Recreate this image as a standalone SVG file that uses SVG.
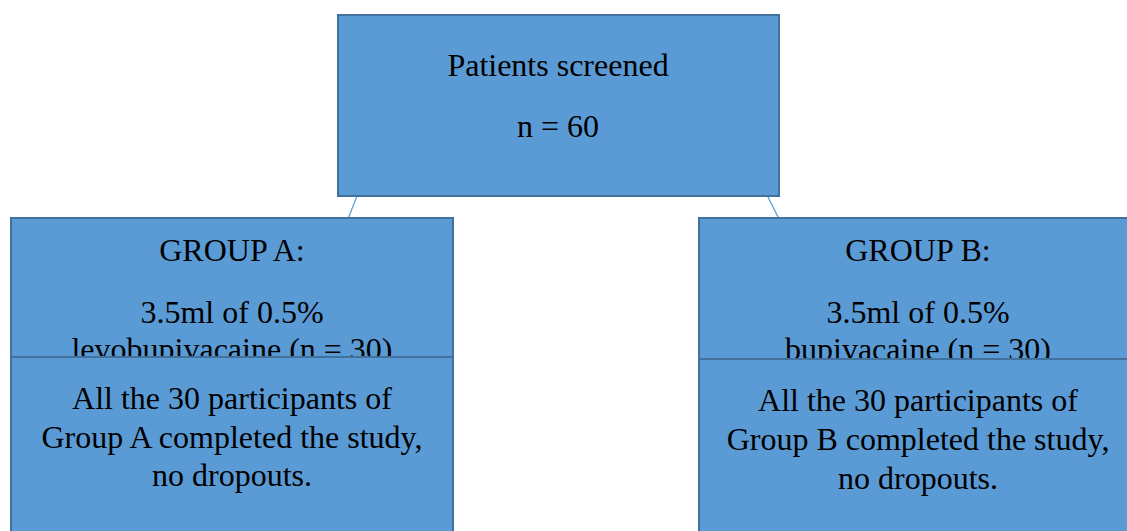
<svg xmlns="http://www.w3.org/2000/svg" width="1127" height="531" viewBox="0 0 1127 531">
<style>
.box{fill:#5b9bd5;stroke:#41719c;stroke-width:2}
.t{font-family:"Liberation Serif","Times New Roman",serif;font-size:32px;fill:#000;text-anchor:middle}
.c{stroke:#5b9bd5;stroke-width:1.2;fill:none}
</style>
<rect width="1127" height="531" fill="#fff"/>
<g id="connectors">
<line class="c" x1="357" y1="196" x2="348" y2="219"/>
<line class="c" x1="767" y1="195" x2="779" y2="219"/>
</g>
<g id="screened">
<rect class="box" x="338" y="15" width="441" height="181"/>
<text class="t" x="558" y="76">Patients screened</text>
<text class="t" x="558" y="137">n = 60</text>
</g>
<g id="groupA">
<rect class="box" x="11" y="218" width="442" height="180"/>
<text class="t" x="232" y="261">GROUP A:</text>
<text class="t" x="232" y="323">3.5ml of 0.5%</text>
<text class="t" x="232" y="360">levobupivacaine (n = 30)</text>
</g>
<g id="groupB">
<rect class="box" x="699" y="218" width="440" height="180"/>
<text class="t" x="918" y="261">GROUP B:</text>
<text class="t" x="918" y="323">3.5ml of 0.5%</text>
<text class="t" x="918" y="360">bupivacaine (n = 30)</text>
</g>
<g id="completedA">
<rect class="box" x="11" y="357" width="442" height="190"/>
<text class="t" x="232" y="409">All the 30 participants of</text>
<text class="t" x="232" y="448">Group A completed the study,</text>
<text class="t" x="232" y="486">no dropouts.</text>
</g>
<g id="completedB">
<rect class="box" x="699" y="359" width="440" height="190"/>
<text class="t" x="918" y="411">All the 30 participants of</text>
<text class="t" x="918" y="450">Group B completed the study,</text>
<text class="t" x="918" y="489">no dropouts.</text>
</g>
</svg>
